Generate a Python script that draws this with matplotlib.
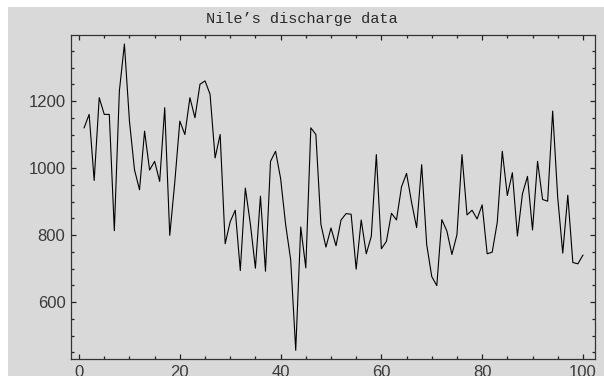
import numpy as np
import matplotlib.pyplot as plt
from matplotlib.patches import Rectangle
from matplotlib.ticker import MultipleLocator

# Nile annual discharge, 100 observations
year_index = list(range(1, 101))
discharge = [1120, 1160, 963, 1210, 1160, 1160, 813, 1230, 1370, 1140,
             995, 935, 1110, 994, 1020, 960, 1180, 799, 958, 1140,
             1100, 1210, 1150, 1250, 1260, 1220, 1030, 1100, 774, 840,
             874, 694, 940, 833, 701, 916, 692, 1020, 1050, 969,
             831, 726, 456, 824, 702, 1120, 1100, 832, 764, 821,
             768, 845, 864, 862, 698, 845, 744, 796, 1040, 759,
             781, 865, 845, 944, 984, 897, 822, 1010, 771, 676,
             649, 846, 812, 742, 801, 1040, 860, 874, 848, 890,
             744, 749, 838, 1050, 918, 986, 797, 923, 975, 815,
             1020, 906, 901, 1170, 912, 746, 919, 718, 714, 740]
title = "Nile\u2019s discharge data"

fig = plt.figure(figsize=(6.04, 3.76), dpi=100)
fig.patch.set_facecolor("white")
bg = Rectangle((8 / 604, 0), 1, 1 - 7 / 376, transform=fig.transFigure,
               facecolor="#d9d9d9", edgecolor="none", zorder=-10)
fig.add_artist(bg)

ax = fig.add_axes([71 / 604, 1 - 359 / 376, (595 - 71) / 604, (359 - 35) / 376])
ax.set_zorder(5)
ax.set_facecolor("#d9d9d9")
ax.plot(year_index, discharge, color="black", lw=0.8)

ax.set_xlim(-1.6, 102.4)
ax.set_ylim(430, 1397)
ax.xaxis.set_major_locator(MultipleLocator(20))
ax.xaxis.set_minor_locator(MultipleLocator(5))
ax.yaxis.set_major_locator(MultipleLocator(200))
ax.yaxis.set_minor_locator(MultipleLocator(50))
ax.tick_params(which="both", direction="in", top=True, right=True,
               colors="#222222", labelcolor="#3a3a3a", labelsize=12, width=0.9)
ax.tick_params(which="major", length=3.5, pad=4)
ax.tick_params(which="minor", length=2)
for lab in ax.get_xticklabels() + ax.get_yticklabels():
    lab.set_family("Liberation Sans")
for s in ax.spines.values():
    s.set_color("#333333")
    s.set_linewidth(0.9)

fig.text(0.5, 1 - 19 / 376, title, ha="center", va="center",
         family="Liberation Mono", fontsize=11, color="#2a2a2a", zorder=6)

fig.savefig("out.png", dpi=100)
